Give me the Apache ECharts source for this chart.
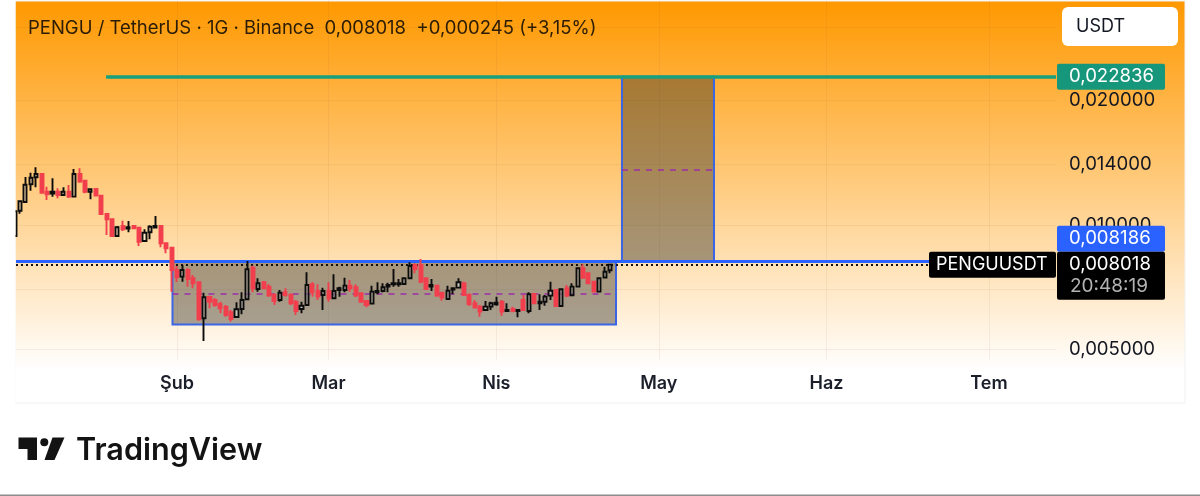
<!DOCTYPE html>
<html>
  <head>
    <title>PENGU / TetherUS</title>
    <meta http-equiv="content-type" content="text/html; charset=UTF-8">
    <script src="https://cdn.jsdelivr.net/npm/echarts@6/dist/echarts.min.js"></script>
    <style>
      html, body { margin: 0; padding: 0; background: #fff; }
      #myChart { width: 1200px; height: 496px; }
    </style>
  </head>
  <body>
    <div id="myChart"></div>
    <script type="text/javascript">
      // daily candles, first one is 30 days before 1 Feb, last one 80 days after
      var firstOffset = -30;
      var opens = [0.009406,0.010829,0.011367,0.012543,0.013042,0.013283,0.012037,0.011905,0.012037,0.011818,0.012037,0.011707,0.013283,0.012797,0.012037,0.012219,0.011773,0.010632,0.010322,0.009406,0.009945,0.009797,0.009945,0.009852,0.009148,0.009600,0.009852,0.009945,0.009033,0.008813,
        0.007784,0.007500,0.007784,0.007434,0.007268,0.005950,0.006700,0.006587,0.006443,0.006346,0.006152,0.005993,0.006265,0.006613,0.007885,0.007003,0.007268,0.007094,0.006773,0.006587,0.006876,0.006773,0.006524,0.006265,0.006406,0.007190,0.006925,0.006773,0.006925,0.006650,
        0.006964,0.006964,0.007133,0.007071,0.006838,0.006550,0.006454,0.006876,0.006925,0.007094,0.007190,0.007190,0.007201,0.007434,0.008004,0.008004,0.007434,0.007094,0.007133,0.006860,0.006624,0.006976,0.007055,0.007229,0.006773,0.006468,0.006346,0.006231,0.006346,0.006432,
        0.006524,0.006196,0.006265,0.006196,0.006587,0.006196,0.006811,0.006468,0.006524,0.006747,0.006964,0.006370,0.007031,0.006762,0.007094,0.007857,0.007644,0.007293,0.006899,0.007462,0.007773];
      var closes = [0.010793,0.011410,0.012515,0.013013,0.013283,0.011970,0.011865,0.012037,0.011818,0.012037,0.011707,0.013283,0.012727,0.012037,0.012199,0.011773,0.010632,0.010322,0.009406,0.009874,0.009763,0.009874,0.009818,0.009112,0.009580,0.009906,0.009945,0.009033,0.008783,0.007784,
        0.007488,0.007784,0.007404,0.007229,0.005916,0.006686,0.006524,0.006406,0.006290,0.006060,0.005926,0.006255,0.006587,0.007816,0.007031,0.007229,0.007031,0.006747,0.006550,0.006860,0.006773,0.006468,0.006196,0.006381,0.007161,0.006876,0.006710,0.006925,0.006650,0.006925,
        0.007031,0.007133,0.007031,0.006747,0.006524,0.006406,0.006899,0.006925,0.007071,0.007161,0.007229,0.007229,0.007434,0.007960,0.007827,0.007293,0.007003,0.007161,0.006747,0.006673,0.006937,0.007031,0.007268,0.006773,0.006432,0.006311,0.006172,0.006346,0.006468,0.006490,
        0.006172,0.006231,0.006196,0.006231,0.006231,0.006800,0.006468,0.006524,0.006710,0.006937,0.006370,0.006991,0.006747,0.007094,0.007857,0.007456,0.007229,0.006899,0.007434,0.007711,0.008018];
      var lows = [0.009406,0.010650,0.011324,0.012104,0.012333,0.011970,0.011493,0.011707,0.011603,0.011773,0.011623,0.011668,0.012657,0.011931,0.011538,0.011773,0.010632,0.009458,0.009406,0.009406,0.009671,0.009600,0.009763,0.008897,0.009112,0.009235,0.009818,0.008833,0.008543,0.006899,
        0.007282,0.007293,0.007094,0.007031,0.005870,0.005243,0.006290,0.006346,0.006117,0.006004,0.005838,0.005982,0.006084,0.006587,0.006876,0.006899,0.006991,0.006710,0.006406,0.006524,0.006710,0.006406,0.006060,0.006117,0.006381,0.006710,0.006587,0.006231,0.006524,0.006613,
        0.006710,0.006876,0.006899,0.006699,0.006490,0.006325,0.006443,0.006800,0.006876,0.006876,0.007094,0.007094,0.007190,0.007404,0.007644,0.007229,0.006964,0.006925,0.006710,0.006561,0.006587,0.006800,0.007031,0.006747,0.006381,0.006290,0.006004,0.006207,0.006231,0.006381,
        0.006036,0.006172,0.006152,0.005982,0.006196,0.006117,0.006468,0.006231,0.006381,0.006587,0.006370,0.006346,0.006686,0.006747,0.007071,0.007434,0.007229,0.006899,0.006876,0.007434,0.007644];
      var highs = [0.010793,0.011448,0.013063,0.013379,0.013789,0.013283,0.012377,0.012969,0.012263,0.012333,0.012494,0.013658,0.013712,0.012846,0.012263,0.012219,0.011773,0.010632,0.010322,0.009945,0.010242,0.010225,0.010000,0.009852,0.009763,0.009984,0.010514,0.009945,0.009033,0.008813,
        0.007960,0.008004,0.007857,0.007571,0.007293,0.006860,0.006747,0.006650,0.006524,0.006406,0.006231,0.006506,0.006876,0.008185,0.007973,0.007434,0.007322,0.007201,0.006838,0.006964,0.007031,0.006838,0.006587,0.006524,0.007686,0.007268,0.007190,0.007055,0.007268,0.007601,
        0.007094,0.007456,0.007363,0.007190,0.006860,0.006587,0.007133,0.007268,0.007229,0.007253,0.007827,0.007404,0.007462,0.008126,0.008081,0.008276,0.007462,0.007404,0.007161,0.006899,0.007133,0.007071,0.007434,0.007293,0.006838,0.006587,0.006406,0.006550,0.006524,0.006710,
        0.006587,0.006468,0.006346,0.006231,0.006773,0.006876,0.006811,0.006800,0.006773,0.007293,0.006964,0.006991,0.007161,0.007229,0.007885,0.008036,0.007644,0.007293,0.007462,0.007930,0.008050];

      // x axis: days counted from 1 Feb
      var monthTicks = [0, 28, 59, 89, 120, 150];
      var monthLabels = ['Şub', 'Mar', 'Nis', 'May', 'Haz', 'Tem'];
      var xMin = -29.74, xMax = 162.38;

      // y axis
      var priceTicks = [0.005, 0.007, 0.01, 0.014, 0.02, 0.03];
      var priceRange = [0.004716, 0.03499];

      // drawings
      var targetPrice = 0.022836;
      var entryPrice = 0.008186;
      var lastPrice = 0.008018;
      var boxBottom = 0.00575;
      var rangeMid = 0.00683;
      var targetMid = 0.01358;
      var rangeDays = [-0.83, 81.1];
      var targetDays = [82.2, 99.2];
      var targetLineStart = -13.1;

      var FONT = 'Inter, "Noto Sans", sans-serif';

      function priceText(v) {
        return v.toFixed(6).replace('.', ',');
      }

      var candles = [];
      for (var i = 0; i < opens.length; i++) {
        candles.push([firstOffset + i, opens[i], closes[i], lows[i], highs[i]]);
      }

      function flat(price, from, to, style) {
        return [
          { coord: [from, price], lineStyle: style },
          { coord: [to, price] }
        ];
      }

      var boxStyle = {
        color: 'rgba(60,58,48,0.45)',
        borderColor: '#3a66e6',
        borderWidth: 2
      };
      var midStyle = { color: '#9c2fa8', width: 1.5, type: [6, 6] };
      var gridLine = { color: 'rgba(130,90,50,0.08)', width: 1 };

      var myChart = echarts.init(document.getElementById('myChart'));

      var option = {
        animation: false,
        backgroundColor: '#fff',
        grid: { left: 16, right: 144, top: 0, bottom: 136 },
        xAxis: {
          type: 'value',
          min: xMin,
          max: xMax,
          axisLine: { show: false },
          axisTick: { show: false, customValues: monthTicks },
          axisLabel: {
            customValues: monthTicks,
            margin: 15,
            fontFamily: FONT,
            fontSize: 18,
            fontWeight: 600,
            color: '#1b1f2a',
            formatter: function (v) {
              return monthLabels[monthTicks.indexOf(v)];
            }
          },
          splitLine: { show: true, lineStyle: gridLine }
        },
        yAxis: {
          type: 'log',
          logBase: 10,
          position: 'right',
          min: priceRange[0],
          max: priceRange[1],
          axisLine: { show: false },
          axisTick: { show: false, customValues: priceTicks },
          axisLabel: {
            customValues: priceTicks,
            margin: 13,
            fontFamily: FONT,
            fontSize: 18.6,
            color: '#131722',
            formatter: function (v) { return priceText(v); }
          },
          splitLine: { show: true, lineStyle: gridLine }
        },
        series: [{
          type: 'candlestick',
          data: candles,
          encode: { x: 0, y: [1, 2, 3, 4] },
          barWidth: 3.6,
          z: 3,
          itemStyle: {
            color: 'rgba(255,255,255,0.4)',
            color0: '#f23f4d',
            borderColor: '#0c0c0c',
            borderColor0: '#f23f4d',
            borderWidth: 1.9
          },
          markArea: {
            silent: true,
            z: 1,
            itemStyle: boxStyle,
            data: [
              [{ coord: [rangeDays[0], entryPrice] }, { coord: [rangeDays[1], boxBottom] }],
              [{ coord: [targetDays[0], targetPrice] }, { coord: [targetDays[1], entryPrice] }]
            ]
          },
          markLine: {
            silent: true,
            z: 2,
            symbol: 'none',
            label: { show: false },
            data: [
              flat(rangeMid, rangeDays[0], rangeDays[1], midStyle),
              flat(targetMid, targetDays[0], targetDays[1], midStyle),
              flat(lastPrice, xMin, xMax, { color: '#111', width: 2, type: [2, 3] }),
              flat(entryPrice, xMin, xMax, { color: '#2962ff', width: 3, type: 'solid' }),
              flat(targetPrice, targetLineStart, xMax, { color: '#17a07e', width: 3.5, type: 'solid' })
            ]
          }
        }]
      };
      myChart.setOption(option);

      // panel, price tags, header and logo
      function tag(x, y, w, h, color, r) {
        return { type: 'rect', shape: { x: x, y: y, width: w, height: h, r: r || 2 }, style: { fill: color }, z: 100, silent: true };
      }
      function label(text, x, y, size, color, weight) {
        return {
          type: 'text', z: 101, silent: true,
          style: {
            text: text, x: x, y: y, fill: color,
            fontFamily: FONT, fontSize: size, fontWeight: weight || 400,
            align: 'left', verticalAlign: 'middle'
          }
        };
      }
      function py(v) {
        return myChart.convertToPixel({ yAxisIndex: 0 }, v);
      }

      var lastY = py(lastPrice);
      var blackTop = lastY - 13;
      var targetY = py(targetPrice);

      myChart.setOption({
        graphic: [
          {
            type: 'rect', z: -10, silent: true,
            shape: { x: 15, y: 1, width: 1170, height: 402 },
            style: {
              fill: new echarts.graphic.LinearGradient(0, 0, 0, 1, [
                { offset: 0, color: '#ff9800' },
                { offset: 0.92, color: '#ffffff' },
                { offset: 1, color: '#ffffff' }
              ]),
              stroke: '#f1f1f1',
              lineWidth: 1
            }
          },
          // hides the part of the first candle left of the plot
          { type: 'rect', z: 50, silent: true, shape: { x: 0, y: 0, width: 15.5, height: 403 }, style: { fill: '#ffffff' } },

          label('PENGU / TetherUS · 1G · Binance  0,008018  +0,000245 (+3,15%)', 28, 28, 18.5, '#2a1c05'),
          tag(1062, 7, 116, 39, '#ffffff', 6),
          label('USDT', 1076, 27, 18, '#131722'),

          tag(1057, targetY - 13, 108, 26, '#16967a'),
          label(priceText(targetPrice), 1069, targetY, 18.6, '#ffffff'),
          tag(1057, blackTop - 26, 108, 26, '#2962ff'),
          label(priceText(entryPrice), 1069, blackTop - 13, 18.6, '#ffffff'),
          tag(1057, blackTop, 108, 48, '#000000'),
          label(priceText(lastPrice), 1069, lastY, 18.6, '#ffffff'),
          label('20:48:19', 1070, lastY + 22, 19, '#b3b3b3'),
          tag(929, blackTop, 127, 26, '#000000'),
          label('PENGUUSDT', 936, lastY, 18, '#ffffff'),

          // TradingView logo
          { type: 'polygon', silent: true, shape: { points: [[18.5, 437.5], [37, 437.5], [37, 460], [27.5, 460], [27.5, 449], [18.5, 449]] }, style: { fill: '#131313' } },
          { type: 'circle', silent: true, shape: { cx: 44.3, cy: 442.3, r: 4 }, style: { fill: '#131313' } },
          { type: 'polygon', silent: true, shape: { points: [[52.5, 437.5], [64.5, 437.5], [54.5, 460], [44.5, 460]] }, style: { fill: '#131313' } },
          label('TradingView', 76, 451, 30.6, '#131313', 600),
          { type: 'rect', silent: true, shape: { x: 0, y: 494.5, width: 1200, height: 1.5 }, style: { fill: '#8c8c8c' } }
        ]
      });
    </script>
  </body>
</html>
